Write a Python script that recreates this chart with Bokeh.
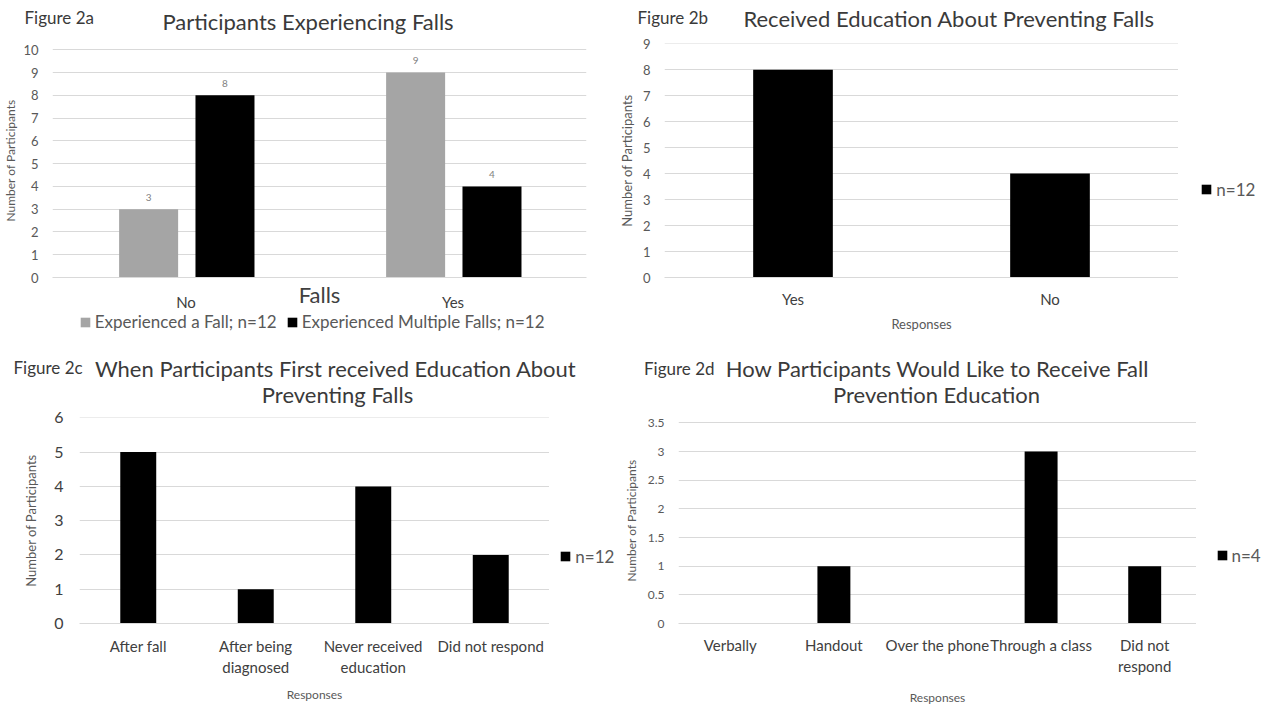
from bokeh.plotting import figure
from bokeh.models import (Legend, LegendItem, FactorRange, Range1d, SingleIntervalTicker,
                          NumeralTickFormatter, ColumnDataSource, LabelSet)
from bokeh.transform import dodge
from bokeh.layouts import column, row
from bokeh.embed import file_html
from bokeh.resources import INLINE
from bokeh.core.properties import value

FONT = "Lato"

# ---------------- data ----------------
# Figure 2a
falls_cats = ["No", "Yes"]
experienced_fall = [3, 9]
experienced_multiple = [8, 4]

# Figure 2b
edu_cats = ["Yes", "No"]
edu_counts = [8, 4]

# Figure 2c
when_cats = ["After fall", "After being\ndiagnosed", "Never received\neducation", "Did not respond"]
when_counts = [5, 1, 4, 2]

# Figure 2d
how_cats = ["Verbally", "Handout", "Over the phone", "Through a class", "Did not\nrespond"]
how_counts = [0, 1, 0, 3, 1]

TITLE_C = "#3a3a3a"
TICK_C = "#595959"
DARK_C = "#404040"
GRAY_BAR = "#a5a5a5"
BLACK_BAR = "#000000"


def blank_fig(w, h, x_range, y_range, bl=0, br=0, bt=0, bb=0):
    p = figure(width=w, height=h, x_range=x_range, y_range=y_range,
               x_axis_type=None, y_axis_type=None, min_border=0,
               min_border_left=bl, min_border_right=br, min_border_top=bt, min_border_bottom=bb,
               toolbar_location=None, output_backend="svg")
    p.outline_line_color = None
    p.background_fill_color = "white"
    p.border_fill_color = "white"
    p.grid.visible = False
    return p


def header(w, h):
    return blank_fig(w, h, Range1d(0, w), Range1d(h, 0))


def htext(p, text, x, y, size, align="left", color=TITLE_C):
    p.text(x=[x], y=[y], text=[text], text_font=value(FONT), text_font_size=value(size),
           text_align=align, text_baseline="middle", text_color=color)


def legend_fig(w, h, bl, br, bt, bb, entries, location, orientation="vertical", size="17px",
               spacing=10):
    p = blank_fig(w, h, Range1d(0, 1), Range1d(0, 1), bl, br, bt, bb)
    items = []
    for label, color in entries:
        # legend swatch proxy: a single zero-height bar, invisible on the canvas
        r = p.vbar(x=[0.5], bottom=[0], top=[0], width=0.01, fill_color=color, line_color=None)
        items.append(LegendItem(label=label, renderers=[r]))
    lg = Legend(items=items, location=location, orientation=orientation,
                border_line_color=None, background_fill_alpha=0, margin=0, padding=2,
                spacing=spacing, label_standoff=4, glyph_width=12, glyph_height=12,
                label_height=16, label_text_font=FONT, label_text_font_size=size,
                label_text_color=TICK_C)
    p.add_layout(lg, "center")
    return p


def base_fig(cats, y_top, interval, w, h, bl, br, bt, bb):
    p = figure(x_range=FactorRange(factors=cats), y_range=Range1d(0, y_top),
               width=w, height=h, min_border=0,
               min_border_left=bl, min_border_right=br, min_border_top=bt, min_border_bottom=bb,
               toolbar_location=None, output_backend="svg")
    p.outline_line_color = None
    p.background_fill_color = "white"
    p.border_fill_color = "white"
    p.xgrid.grid_line_color = None
    p.ygrid.grid_line_color = "#d9d9d9"
    p.ygrid.grid_line_width = 1
    p.yaxis.ticker = SingleIntervalTicker(interval=interval, num_minor_ticks=0)
    for ax in (p.xaxis[0], p.yaxis[0]):
        ax.major_tick_line_color = None
        ax.minor_tick_line_color = None
        ax.major_tick_out = 0
        ax.major_tick_in = 0
        ax.minor_tick_out = 0
        ax.minor_tick_in = 0
        ax.major_label_text_font = FONT
        ax.axis_label_text_font = FONT
        ax.axis_label_text_font_style = "normal"
        ax.axis_label_text_color = TICK_C
    p.yaxis.axis_line_color = None
    p.xaxis.axis_line_color = "#d9d9d9"
    p.yaxis.major_label_text_color = TICK_C
    p.xaxis.major_label_text_color = DARK_C
    p.yaxis.axis_label = "Number of Participants"
    return p


# ---------------- headers ----------------
ha = header(615, 36)
htext(ha, "Figure 2a", 24, 17.3, "17px")
htext(ha, "Participants Experiencing Falls", 307.5, 20.7, "22px", "center")

hb = header(657, 36)
htext(hb, "Figure 2b", 22, 17.3, "17px")
htext(hb, "Received Education About Preventing Falls", 333.6, 18.3, "22px", "center")

hc = header(620, 62)
htext(hc, "Figure 2c", 13, 22.3, "17px")
htext(hc, "When Participants First received  Education About", 338, 22.5, "22px", "center")
htext(hc, "Preventing Falls", 337, 48.8, "22px", "center")

hd = header(652, 62)
htext(hd, "Figure 2d", 23.5, 23, "17px")
htext(hd, "How Participants Would Like to Receive Fall", 317, 22.5, "22px", "center")
htext(hd, "Prevention Education", 316, 48.8, "22px", "center")

# ---------------- Figure 2a ----------------
pa = base_fig(falls_cats, 10.277, 1, 615, 276, 52, 29, 7, 35)
src_a = ColumnDataSource(dict(cats=falls_cats, fall=experienced_fall, multi=experienced_multiple,
                              fall_lbl=[str(v) for v in experienced_fall],
                              multi_lbl=[str(v) for v in experienced_multiple]))
pa.vbar(x=dodge("cats", -0.140, range=pa.x_range), top="fall", width=0.221, source=src_a,
        fill_color=GRAY_BAR, line_color=None)
pa.vbar(x=dodge("cats", 0.146, range=pa.x_range), top="multi", width=0.221, source=src_a,
        fill_color=BLACK_BAR, line_color=None)
for off, col in ((-0.140, "fall"), (0.146, "multi")):
    pa.add_layout(LabelSet(x=dodge("cats", off, range=pa.x_range), y=col, text=col + "_lbl",
                           source=src_a, y_offset=12, text_align="center", text_baseline="middle",
                           text_font=value(FONT), text_font_size=value("10px"),
                           text_color="#7f7f7f"))
pa.yaxis.major_label_text_font_size = "13px"
pa.yaxis.major_label_standoff = 14
pa.yaxis.axis_label_text_font_size = "12px"
pa.yaxis.axis_label_standoff = 2
pa.xaxis.major_label_text_font_size = "15px"
pa.xaxis.major_label_standoff = 15
pa.xaxis.axis_label = "Falls"
pa.xaxis.axis_label_text_font_size = "22px"
pa.xaxis.axis_label_text_color = DARK_C
pa.xaxis.axis_label_standoff = -33

la = legend_fig(615, 33, 52, 29, 0, 0,
                [("Experienced a Fall; n=12", GRAY_BAR),
                 ("Experienced Multiple Falls; n=12", BLACK_BAR)],
                (26.8, 13), orientation="horizontal", size="17px", spacing=9)

# ---------------- Figure 2b ----------------
pb = base_fig(edu_cats, 9.01, 1, 563, 309, 48, 0, 7, 68)
src_b = ColumnDataSource(dict(cats=edu_cats, counts=edu_counts))
pb.vbar(x="cats", top="counts", width=0.31, source=src_b, fill_color=BLACK_BAR, line_color=None)
pb.yaxis.major_label_text_font_size = "13px"
pb.yaxis.major_label_standoff = 14
pb.yaxis.axis_label_text_font_size = "13px"
pb.yaxis.axis_label_standoff = 5
pb.xaxis.major_label_text_font_size = "15px"
pb.xaxis.major_label_standoff = 12
pb.xaxis.axis_label = "Responses"
pb.xaxis.axis_label_text_font_size = "13px"
pb.xaxis.axis_label_standoff = 5

lb = legend_fig(94, 309, 0, 0, 7, 68, [("n=12", BLACK_BAR)], (22.3, 77.2))

# ---------------- Figure 2c ----------------
pc = base_fig(when_cats, 6.01, 1, 549, 302, 79, 0, 10, 86)
src_c = ColumnDataSource(dict(cats=when_cats, counts=when_counts))
pc.vbar(x="cats", top="counts", width=0.306, source=src_c, fill_color=BLACK_BAR, line_color=None)
pc.yaxis.major_label_text_font_size = "16px"
pc.yaxis.major_label_text_color = DARK_C
pc.yaxis.major_label_standoff = 16
pc.yaxis.axis_label_text_font_size = "13px"
pc.yaxis.axis_label_standoff = 12
pc.xaxis.major_label_text_font_size = "15px"
pc.xaxis.major_label_standoff = 13
pc.xaxis.axis_label = "Responses"
pc.xaxis.axis_label_text_font_size = "12px"
pc.xaxis.axis_label_standoff = 8

lc = legend_fig(71, 302, 0, 0, 10, 86, [("n=12", BLACK_BAR)], (10.3, 56.5))

# ---------------- Figure 2d ----------------
pd_ = base_fig(how_cats, 3.594, 0.5, 576, 302, 57, 0, 10, 86)
src_d = ColumnDataSource(dict(cats=how_cats, counts=how_counts))
pd_.vbar(x="cats", top="counts", width=0.318, source=src_d, fill_color=BLACK_BAR, line_color=None)
pd_.yaxis.formatter = NumeralTickFormatter(format="0.[0]")
pd_.yaxis.major_label_text_font_size = "12px"
pd_.yaxis.major_label_standoff = 14
pd_.yaxis.axis_label_text_font_size = "12px"
pd_.yaxis.axis_label_standoff = 6
pd_.xaxis.major_label_text_font_size = "15px"
pd_.xaxis.major_label_standoff = 12
pd_.xaxis.axis_label = "Responses"
pd_.xaxis.axis_label_text_font_size = "12px"
pd_.xaxis.axis_label_standoff = 12

ld = legend_fig(76, 302, 0, 0, 10, 86, [("n=4", BLACK_BAR)], (19.5, 57.5))

layout = column(row(ha, hb),
                row(column(pa, la), pb, lb),
                row(hc, hd),
                row(pc, lc, pd_, ld))
open("out.html", "w").write(file_html(layout, INLINE))
